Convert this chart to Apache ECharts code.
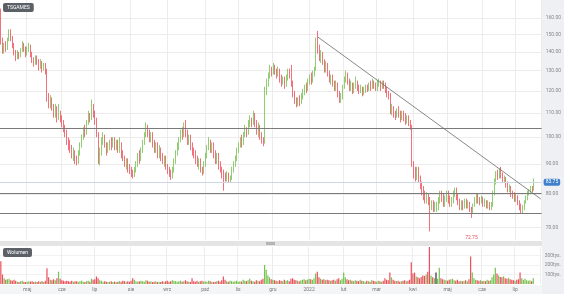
<!DOCTYPE html>
<html><head><meta charset="utf-8">
<script src="https://cdn.jsdelivr.net/npm/echarts@6/dist/echarts.min.js"></script>
<style>html,body{margin:0;padding:0;background:#fff}#c{width:564px;height:294px}</style>
</head><body><div id="c"></div>
<script>
// [open, close, low, high]
const candles = [
[160,146,144,166],[146,141,139,148],[141,144,139,145],[144,142,140,146],[142,147,141,148],[147,151,146,153],[151,148,146,153],[148,144,142,149],[144,140,138,145],[140,137,135,141],
[137,139,136,141],[139,138,136,140],[138,141,137,142],[141,144,140,146],[144,142,140,145],[142,139,137,143],[139,141,138,143],[141,143,140,145],[143,139,137,144],[139,136,134,140],
[136,134,132,137],[134,137,133,138],[137,135,133,138],[135,132,130,136],[132,134,131,136],[134,131,129,135],[131,133,130,134],[133,130,128,134],[130,117,115,131],[117,114,112,119],
[114,116,112,118],[116,113,111,117],[113,110,108,114],[110,112,108,114],[112,109,106,113],[109,110,107,114],[110,108,106,111],[108,106,104,109],[106,104,102,107],[104,102,100,105],
[102,99,97,103],[99,97,95,100],[97,96,94,99],[96,93,92,97],[93,94,91,96],[94,92,90,95],[92,91,89.5,93],[91,94,90,95],[94,97,93,98],[97,100,96,101],
[100,103,99,104],[103,102,100,105],[102,106,101,107],[106,109,105,111],[109,108,106,110],[108,113,107,116],[113,110,108,114],[110,107,105,111],[107,101,100,108],[101,91,90,102],
[91,94,89.5,96],[94,99,93,100],[99,100,97,102],[100,97,96,101],[97,95,93,98],[95,96,94,98],[96,98,95,99],[98,97,95,100],[97,99,96,100],[99,97,95,100],
[97,98,95,99],[98,96,94,99],[96,97,94,100],[97,94,92,98],[94,92,91,95],[92,90,89,93],[90,91,88,92],[91,89,87,92],[89,88,86.5,90],[88,87,85.5,89],
[87,86,85,88],[86,88,85.5,89],[88,90,87,91],[90,93,89,94],[93,92,90,95],[92,95,91,96],[95,98,94,99],[98,101,97,102],[101,104,100,106],[104,102,100,105],
[102,100,98,103],[100,101,98,102],[101,98,96,102],[98,96,94,99],[96,97,94,98],[97,94,92,98],[94,95,92,97],[95,93,91,96],[93,91,90,94],[91,92,89,93],
[92,89,88,93],[89,88,86.5,90],[88,87,85.5,89],[87,86,84.5,88],[86,88,85,89],[88,91,87,92],[91,94,90,95],[94,97,93,98],[97,99,95,100],[99,102,98,103],
[102,101,99,104],[101,104,100,106],[104,102,100,107],[102,99,97,103],[99,100,97,101],[100,97,95,101],[97,95,93,98],[95,94,92,96],[94,92,90,95],[92,90,89,93],
[90,91,88,92],[91,88,87,92],[88,87,86,89],[87,90,86.5,91],[90,93,89,94],[93,96,92,97],[96,98,95,100],[98,96,94,99],[96,97,94,98],[97,94,92,98],
[94,92,90,95],[92,93,90,94],[93,90,88,94],[90,88,87,91],[88,87,85,89],[87,86,81,88],[86,85,84,87],[85,86,84,87.5],[86,84.5,83.5,87],[84.5,85,83.5,86],
[85,88,84.5,89],[88,90,87,91],[90,92,89,93],[92,95,91,96],[95,97,94,98],[97,99,96,100],[99,98,96,101],[98,101,97,102],[101,103,100,105],[103,102,100,104],
[102,105,101,107],[105,107,104,109],[107,106,104,108],[106,109,105,111],[109,106,104,110],[106,103,101,107],[103,104,100,106],[104,101,99,105],[101,99,97.5,102],[99,98,96.5,100],
[98,120,97.5,122],[120,124,118,126],[124,127,122,129],[127,131,126,133],[131,129,127,132],[129,132,128,134],[132,130,128,133],[130,128,126,131],[128,130,127,132],[130,127,124,131],
[127,124,122,128],[124,126,123,127],[126,123,121,127],[123,126,122,128],[126,129,125,131],[129,128,126,131],[128,124,122,133],[124,119,117,125],[119,116,114,120],[116,114,112.5,117],
[114,116,113,117],[116,115,113,118],[115,117,114,119],[117,119,116,121],[119,122,118,123],[122,121,119,124],[121,124,120,126],[124,127,123,128],[127,125,123,129],[125,128,124,130],
[128,131,127,132],[131,146,130,148],[146,142,139,152],[142,137,135,144],[137,139,134,141],[139,135,133,140],[135,131,129,136],[131,133,129,135],[133,129,127,134],[129,125,124,130],
[125,127,123,128],[127,124,122,128],[124,122,120,125],[122,123,120,125],[123,119,117,124],[119,116,114.5,120],[116,117,114.5,119],[117,122,116,123],[122,126,121,127],[126,128,124,130],
[128,125,123,129],[125,122,120,126],[122,123,120,125],[123,120,118.5,124],[120,122,119,124],[122,124,121,127],[124,122,120,125],[122,120,118.5,123],[120,121,119,123],[121,119,117.5,122],
[119,120,118,122],[120,122,119,123],[122,121,119.5,123],[121,123,120,124],[123,122,120,125],[122,124,121,126],[124,123,121,125],[123,121,120,124],[121,123,120,125],[123,124,122,126],
[124,122,120,125],[122,124,121,125],[124,123,121,125],[123,121,119,124],[121,119,117,122],[119,118,116,120],[118,111,109.5,119],[111,112,109,114],[112,110,108,113],[110,109,107,111],
[109,111,108,112],[111,110,108,113],[110,108,106,111],[108,110,107,111],[110,109,106.5,111],[109,107,105,110],[107,108,105.5,109],[108,106,104.5,109],[106,104,103,107],[104,90,89,105],
[90,87,85,91],[87,86,84,89],[86,88,84.5,89],[88,85,83.5,89],[85,83,81.5,86],[83,81,79.5,84],[81,80,78,82.5],[80,78,77,81],[78,79,77,80.5],[79,77.5,76.5,80],
[77.5,76,69,79],[76,77,75,78],[77,75.5,74.5,78],[75.5,76.5,74.5,77.5],[76.5,76.5,74.5,77.5],[76.5,78,75,79],[78,80,77,81],[80,79,77.5,81],[79,77,76,80],[77,78.5,76,79.5],
[78.5,80,77.5,81],[80,78.5,77,81],[78.5,77,76,79.5],[77,78,76,79],[78,80,77,81],[80,81,79,82],[81,79,78,82],[79,77.5,76.5,80],[77.5,76,75,78.5],[76,77,75,78],
[77,76,75,78],[76,77.5,75.5,78.5],[77.5,76.5,75.5,78.5],[76.5,77,75.5,78],[77,75.5,74.5,77.5],[75.5,74.5,72.75,76],[74.5,76.5,74,77],[76.5,78,76,79],[78,79,77,80],[79,78,77,80],
[78,77.5,76.5,79],[77.5,78.5,77,79.5],[78.5,77,76,79],[77,77.5,76,78.5],[77.5,76.5,75.5,78],[76.5,77,75.5,78],[77,76,75,77.5],[76,76.5,75,77.5],[76.5,80,76,81],[80,84,79.5,85],
[84,86.5,83,87.5],[86.5,86,84.5,88],[86,87.5,85,88.5],[87.5,86,85,89],[86,84.5,83.5,87],[84.5,85,83.5,86],[85,83,82,85.5],[83,81.5,80.5,84],[81.5,82,80.5,83],[82,80,79,82.5],
[80,79.5,78.5,81],[79.5,78.5,77.5,80.5],[78.5,79,77.5,80],[79,77.5,76.5,79.5],[77.5,76,75,78],[76,75,74,77],[75,75.5,74,76.5],[75.5,77.5,75,78],[77.5,78.5,77,79.5],[78.5,80,78,81],
[80,80.5,79.5,81.5],[80.5,82,80,82.5],[82,81.5,80.5,82.5],[81.5,83.75,81,85]
];
// volume in thousands of shares
const volumes = [
240,100,60,45,50,55,40,35,45,35, 25,20,30,35,25,20,25,30,25,30, 20,25,20,30,25,30,20,35,165,70,
45,40,50,40,60,130,55,40,35,30, 35,30,25,35,25,30,30,25,30,35, 25,20,30,35,25,55,45,50,80,60,
40,35,25,30,25,20,25,30,20,25, 20,25,30,25,35,30,25,30,25,35, 60,45,30,25,30,35,30,25,40,35,
25,30,20,25,30,20,25,20,30,25, 30,35,25,30,40,35,30,25,30,35, 25,30,40,30,25,20,60,30,25,35,
25,30,35,25,30,25,35,30,25,20, 25,30,35,25,40,80,45,30,25,35, 30,25,30,35,25,30,25,45,35,30,
40,55,35,30,25,40,35,30,45,55, 200,150,90,70,50,45,40,35,30,40, 35,30,45,35,40,30,55,60,45,40,
35,30,40,45,50,40,45,55,50,45, 60,110,130,70,55,45,50,40,45,40, 35,40,45,35,50,60,40,55,120,70,
50,40,45,35,30,40,35,30,45,35, 30,25,35,30,25,40,35,30,25,35, 30,25,35,60,45,40,120,70,45,35,
30,35,25,30,35,40,30,35,45,230, 110,120,80,70,60,75,90,85,100,130, 395,90,70,60,120,55,170,60,50,45,
40,35,45,50,55,40,35,45,30,35, 30,35,40,30,50,290,120,60,45,40, 35,40,30,35,30,45,35,40,70,100,
170,110,90,75,70,80,60,55,65,50, 45,40,35,45,50,120,60,45,55,40, 35,40,30,60
];
const slotCount = 328;
const monthLabels = ['maj','cze','lip','sie','wrz','paź','lis','gru','2022','lut','mar','kwi','maj','cze','lip'];
const monthStarts = [16,37,57,79,101,124,144,165,187,208,228,250,271,292,312];
const priceTicks = [70,80,90,100,110,120,130,140,150,160];
const volumeTicks = [100,200,300];
const supportLevels = [103.7, 80.3, 74.2];
const lastPrice = 83.75;
const minLow = 72.75, minLowIndex = 285;
const trendStart = [192, 148.4], trendEnd = [327, 78.4];

const UP = '#74c24f', DOWN = '#ec4f5b', FLAT = '#333';
const categories = Array.from({length: slotCount}, (_, i) => String(i));
const isMonth = (i) => monthStarts.indexOf(i) >= 0;
const FONT = 'Roboto';

const chart = echarts.init(document.getElementById('c'), null, {renderer: 'canvas'});
chart.setOption({
  animation: false,
  backgroundColor: '#fff',
  graphic: [
    {type: 'rect', z: -1, shape: {x: 542, y: 0, width: 22, height: 294}, style: {fill: '#eef0f4'}},
    {type: 'rect', z: -1, shape: {x: 0, y: 285, width: 542, height: 9}, style: {fill: '#f4f5f7'}},
    {type: 'rect', z: -1, shape: {x: 0, y: 241, width: 542, height: 5}, style: {fill: '#e4e4e4'}},
    {type: 'rect', z: 5, shape: {x: 266, y: 242, width: 9, height: 3}, style: {fill: '#b5b5b5'}}
  ],
  title: [
    {text: 'TSGAMES', left: 3, top: 3, padding: [2, 4], backgroundColor: '#5c6168', borderRadius: 2,
     textStyle: {color: '#fff', fontSize: 5, fontWeight: 'normal', fontFamily: FONT}},
    {text: 'Wolumen', left: 3, top: 248, padding: [2, 4], backgroundColor: '#5c6168', borderRadius: 2,
     textStyle: {color: '#fff', fontSize: 5, fontWeight: 'normal', fontFamily: FONT}}
  ],
  grid: [
    {left: 0, right: 22, top: 0, height: 240},
    {left: 0, right: 22, top: 247, height: 37}
  ],
  xAxis: [
    {type: 'category', gridIndex: 0, data: categories, boundaryGap: true,
     axisLine: {show: false}, axisTick: {show: false}, axisLabel: {show: false},
     splitLine: {show: true, interval: (i) => isMonth(i), lineStyle: {color: '#ececec', width: 1}}},
    {type: 'category', gridIndex: 1, data: categories, boundaryGap: true,
     axisLine: {show: false}, axisTick: {show: false},
     axisLabel: {show: true, interval: (i) => isMonth(i), formatter: (v, i) => monthLabels[monthStarts.indexOf(i)] || '',
       fontSize: 5, color: '#777', margin: 3, fontFamily: FONT},
     splitLine: {show: true, interval: (i) => isMonth(i), lineStyle: {color: '#ececec', width: 1}}}
  ],
  yAxis: [
    {type: 'log', gridIndex: 0, position: 'right', min: 66.7, max: 171.7, logBase: 10,
     axisLine: {show: false}, axisTick: {show: false, customValues: priceTicks},
     axisLabel: {customValues: priceTicks, formatter: (v) => Number(v).toFixed(2), fontSize: 5, color: '#888', margin: 4, fontFamily: FONT},
     splitLine: {show: true, lineStyle: {color: '#ececec', width: 1}}},
    {type: 'value', gridIndex: 1, position: 'right', min: 0, max: 390,
     axisLine: {show: false}, axisTick: {show: false, customValues: volumeTicks},
     axisLabel: {customValues: volumeTicks, formatter: (v) => v + 'tys.', fontSize: 5, color: '#888', margin: 4, fontFamily: FONT},
     splitLine: {show: true, lineStyle: {color: '#f2f2f2', width: 1}}}
  ],
  series: [
    {type: 'candlestick', xAxisIndex: 0, yAxisIndex: 0, data: candles, barWidth: 1.2,
     itemStyle: {color: UP, color0: DOWN, borderColor: UP, borderColor0: DOWN, borderWidth: 0.8},
     markLine: {silent: true, symbol: ['none', 'none'], animation: false,
       data: [
         ...supportLevels.map(v => ({yAxis: v, lineStyle: {color: '#7a7a7a', width: 1, type: 'solid'}, label: {show: false}})),
         {yAxis: lastPrice, lineStyle: {color: '#cdd6e2', width: 1, type: 'solid'},
          label: {show: true, position: 'end', formatter: lastPrice.toFixed(2), backgroundColor: '#3f7fcb', color: '#fff',
            fontSize: 5, padding: [1, 2], borderRadius: 2, distance: 2, fontFamily: FONT}},
         [{coord: trendStart, lineStyle: {color: '#6a6a6a', width: 0.8, type: 'solid'}, label: {show: false}}, {coord: trendEnd}]
       ]},
     markPoint: {silent: true, animation: false,
       data: [{coord: [minLowIndex, minLow], value: minLow, symbol: 'circle', symbolSize: 1, itemStyle: {color: 'rgba(0,0,0,0)'},
         label: {show: true, formatter: minLow.toFixed(2), color: '#e8505b', fontSize: 5, offset: [0, 20], fontFamily: FONT}}]}
    },
    {type: 'bar', xAxisIndex: 1, yAxisIndex: 1, barWidth: 1.2,
     data: volumes.map((v, i) => {
       const c = candles[i];
       const col = c[1] > c[0] ? UP : (c[1] < c[0] ? DOWN : FLAT);
       return {value: v, itemStyle: {color: col}};
     })}
  ]
});
</script>
</body></html>
